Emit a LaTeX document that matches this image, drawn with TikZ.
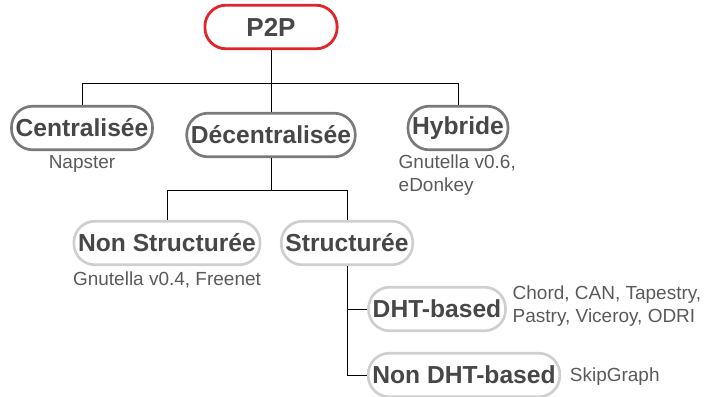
\documentclass[tikz,border=0pt]{standalone}
\usepackage{fontspec}
\setmainfont{Liberation Sans}
\usetikzlibrary{positioning}
\definecolor{boxred}{HTML}{E0262A}
\definecolor{textgray}{HTML}{474747}
\definecolor{notegray}{HTML}{5A5A5A}
\definecolor{darkrim}{HTML}{7A7A7A}
\definecolor{lightrim}{HTML}{CFCFCF}
\tikzstyle{pill}=[draw, line width=1.9pt, rounded corners=15pt, text=textgray, font={\fontsize{17.5}{20}\selectfont\bfseries}, inner xsep=3pt, minimum height=31pt]
\tikzstyle{toppill}=[pill, draw=boxred, line width=2pt, font={\fontsize{18.5}{21}\selectfont\bfseries}, minimum width=94pt]
\tikzstyle{darkpill}=[pill, draw=darkrim]
\tikzstyle{lightpill}=[pill, draw=lightrim]
\tikzstyle{note}=[text=notegray, font={\fontsize{13.5}{16.3}\selectfont}, inner sep=1pt, align=left]
\tikzstyle{link}=[line width=0.6pt, black]

\begin{document}
\begin{tikzpicture}[x=0.025cm, y=-0.025cm]
    \useasboundingbox (0,0) rectangle (707,396);

    \node[toppill] (p2p) at (271, 27) {P2P};

    \node[darkpill] (central) at (82, 128) {Centralisée};
    \node[darkpill] (decentral) at (271, 135) {Décentralisée};
    \node[darkpill] (hybrid) at (458, 128) {Hybride};

    \node[note, below=2pt of central] (napster) {Napster};
    \node[note, anchor=north west] (hybridex) at (397, 153) {Gnutella v0.6,\\eDonkey};

    \node[lightpill] (unstruct) at (167, 243) {Non Structurée};
    \node[lightpill] (struct) at (347, 243) {Structurée};

    \node[note, below=3pt of unstruct] (unstructex) {Gnutella v0.4, Freenet};

    \node[lightpill] (dht) at (437, 309) {DHT-based};
    \node[lightpill] (nondht) at (464, 375) {Non DHT-based};

    \node[note, right=3pt of dht, yshift=2pt] (dhtex) {Chord, CAN, Tapestry,\\Pastry, Viceroy, ODRI};
    \node[note, right=5pt of nondht, yshift=-1pt] (nondhtex) {SkipGraph};

    \coordinate (split1) at (271, 83);
    \coordinate (split2) at (271, 190);

    \draw[link] (p2p.south) -- (split1) -| (central.north);
    \draw[link] (split1) -| (hybrid.north);
    \draw[link] (split1) -- (decentral.north);

    \draw[link] (decentral.south) -- (split2) -| (unstruct.north);
    \draw[link] (split2) -| (struct.north);

    \draw[link] (struct.south) |- (dht.west);
    \draw[link] (struct.south) |- (nondht.west);

\end{tikzpicture}
\end{document}
